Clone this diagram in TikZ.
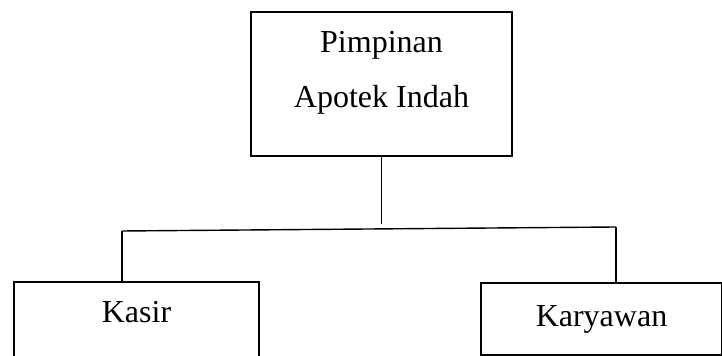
\documentclass[tikz,border=0pt]{standalone}
\usepackage{fontspec}
\setmainfont{Liberation Serif}
\usepackage{tikz}
\usetikzlibrary{positioning,calc}

\begin{document}
\begin{tikzpicture}[x=0.5pt,y=-0.5pt,
        kotak/.style={draw, line width=0.7pt, rectangle, align=center,
            font=\fontsize{16}{27.5}\selectfont},
        garis/.style={line width=0.7pt}]
            \clip (0,0) rectangle (722,356);

            \node[kotak, minimum width=130.5pt, minimum height=72pt, text depth=14.5pt]
                (pimpinan) at (381.5,84) {Pimpinan\\Apotek Indah};
            \node[kotak, minimum width=122.5pt, minimum height=40pt, text depth=10.5pt]
                (kasir) at (136.5,322) {Kasir};
            \node[kotak, minimum width=120.5pt, minimum height=36pt]
                (karyawan) at (601.5,319) {Karyawan};

            \coordinate (tengah) at (381.5,224);
            \coordinate (kiri) at (122,231);
            \coordinate (kanan) at (616,227);

            \draw[garis] (pimpinan.south) -- (tengah);
            \draw[garis] (kiri) -- (kanan);
            \draw[garis] (kiri) -- (kiri |- kasir.north);
            \draw[garis] (kanan) -- (kanan |- karyawan.north);
        \end{tikzpicture}
\end{document}
